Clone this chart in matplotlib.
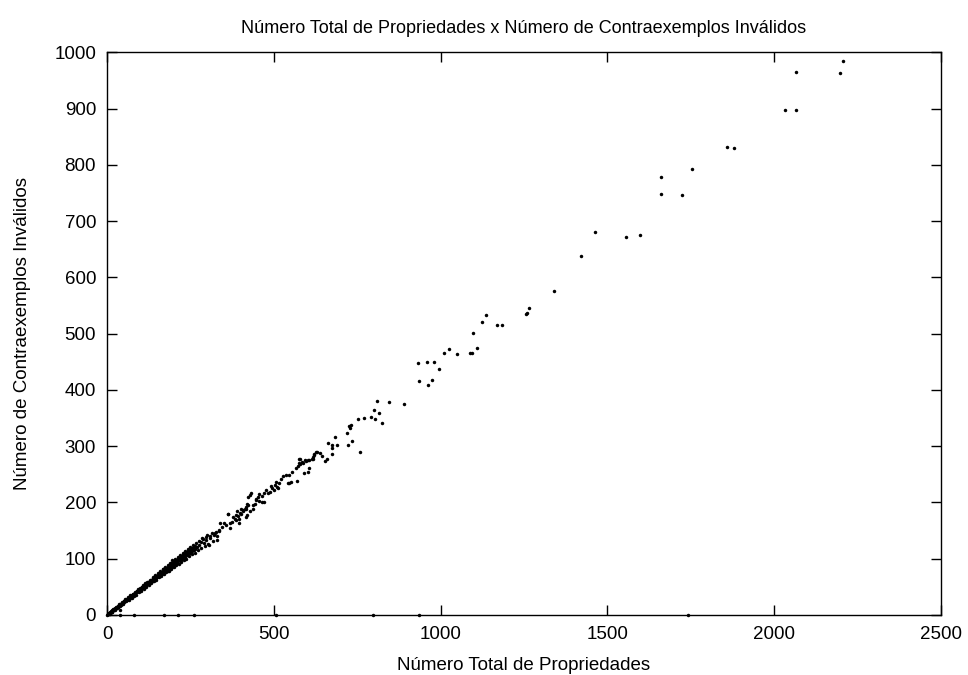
import matplotlib
matplotlib.use("Agg")
import matplotlib.pyplot as plt

plt.rcParams['font.family'] = ['Liberation Sans', 'DejaVu Sans']

# pontos densos perto da origem (propriedades, contraexemplos invalidos)
denso_x = [1, 2, 3, 4, 5, 5, 6, 7, 8, 9, 10, 11, 12, 13, 14, 15, 16, 17, 18, 19,
           20, 21, 22, 23, 24, 25, 26, 27, 28, 29, 30, 31, 32, 33, 34, 35, 36, 37, 38, 40,
           41, 42, 43, 45, 46, 47, 48, 50, 51, 52, 54, 55, 56, 58, 59, 60, 62, 63, 64, 66,
           67, 68, 70, 71, 72, 74, 75, 77, 78, 79, 81, 82, 84, 85, 86, 88, 89, 90, 92, 93,
           95, 96, 98, 99, 100, 102, 104, 105, 107, 108, 110, 111, 113, 115, 116, 118, 120, 121, 123, 125,
           126, 128, 130, 131, 133, 135, 136, 138, 140, 141, 143, 145, 146, 148, 150, 151, 153, 155, 156, 158,
           160, 161, 163, 165, 166, 168, 170, 171, 173, 175, 176, 178, 180, 181, 183, 185, 186, 188, 190, 191,
           193, 195, 196, 198, 200, 201, 203, 205, 206, 208, 210, 211, 213, 215, 216, 218, 220, 221, 223, 225,
           226, 228, 230, 232, 233, 235, 237, 238, 240, 242, 243, 245, 247, 248, 250, 252, 254, 255, 257, 259,
           261, 262, 264]
denso_y = [0, 1, 1, 2, 2, 3, 3, 3, 4, 4, 5, 5, 6, 6, 6, 7, 8, 8, 8, 9,
           10, 9, 10, 11, 11, 12, 12, 13, 13, 14, 14, 15, 15, 15, 16, 17, 16, 17, 18, 19,
           18, 20, 20, 21, 22, 21, 23, 23, 24, 25, 25, 26, 27, 27, 28, 29, 29, 30, 28, 31,
           32, 31, 33, 34, 32, 35, 35, 36, 37, 35, 38, 39, 39, 40, 41, 41, 42, 43, 42, 44,
           45, 44, 46, 47, 45, 48, 49, 50, 49, 51, 52, 50, 53, 54, 52, 56, 55, 57, 58, 56,
           59, 60, 58, 62, 61, 63, 60, 65, 64, 66, 67, 65, 68, 70, 67, 71, 69, 72, 70, 74,
           73, 75, 72, 77, 76, 74, 79, 78, 80, 78, 82, 80, 84, 79, 83, 86, 84, 82, 88, 87,
           85, 90, 89, 87, 92, 94, 90, 95, 93, 97, 96, 92, 99, 98, 100, 101, 97, 103, 102, 104,
           100, 106, 105, 108, 103, 110, 109, 112, 107, 113, 111, 115, 110, 116, 114, 118, 113, 119, 117, 121,
           116, 122, 120]

# segunda camada da nuvem densa, com mais dispersao
disperso_x = [8, 12, 15, 19, 24, 27, 31, 35, 39, 44, 49, 53, 57, 61, 65, 69, 73, 76, 80, 83,
              87, 91, 94, 97, 101, 106, 109, 112, 117, 119, 124, 127, 132, 137, 139, 144, 147, 152, 154, 159,
              162, 167, 169, 174, 177, 182, 184, 189, 192, 197, 199, 204, 207, 212, 214, 219, 222, 227, 229, 234,
              236, 241, 244, 249, 253, 258, 263, 267, 272, 276, 281, 286, 292, 296, 302, 309, 316, 322, 328, 334]
disperso_y = [2, 7, 5, 11, 8, 15, 12, 19, 16, 23, 20, 28, 24, 32, 27, 35, 31, 38, 33, 41,
              36, 46, 40, 48, 43, 53, 46, 56, 50, 59, 53, 63, 56, 67, 60, 71, 63, 74, 67, 78,
              70, 81, 73, 85, 76, 89, 79, 93, 82, 96, 85, 99, 88, 103, 91, 106, 94, 110, 97, 113,
              100, 117, 104, 121, 108, 124, 111, 128, 115, 131, 119, 135, 123, 138, 127, 141, 132, 146, 140, 150]

# faixa intermediaria
meio_x = [166, 174, 181, 186, 191, 194, 201, 205, 213, 220, 225, 230, 235, 240, 245, 250, 255, 263, 270, 275,
          280, 285, 290, 297, 300, 305, 307, 313, 320, 325, 330, 335, 337, 343, 350, 357, 361, 368, 368, 375,
          385, 393, 395, 400, 408, 415, 415, 421,
          363, 378, 383, 385, 390, 395, 398, 401, 407, 412, 415, 418, 420, 423, 427, 428, 432, 436, 437, 442,
          445, 447, 452, 455, 455, 463, 465, 470, 470, 475, 483, 488, 491, 495, 500, 503, 505, 509, 513, 515,
          522, 527, 537, 543, 545, 545, 550, 553, 565, 569, 573, 575, 579, 585, 591, 595, 603, 605, 615, 621,
          627,
          576, 577, 587, 594, 603, 606, 616, 617, 621, 628, 639, 645, 652, 659, 661, 674, 675, 675, 683, 690,
          719, 721, 725, 728, 730, 735, 752, 757, 770, 792, 800, 802, 810, 816, 823, 844, 890]
meio_y = [81, 83, 86, 89, 92, 98, 95, 96, 99, 101, 104, 107, 111, 110, 112, 114, 117, 118, 121, 124,
          130, 136, 128, 133, 142, 124, 136, 145, 142, 148, 133, 151, 164, 157, 163, 160, 179, 164, 154, 166,
          169, 176, 163, 179, 186, 189, 175, 195,
          180, 175, 171, 178, 184, 171, 181, 189, 184, 188, 192, 178, 198, 209, 185, 213, 217, 196, 188, 198,
          204, 207, 210, 215, 203, 201, 211, 216, 200, 222, 216, 219, 229, 225, 222, 231, 237, 228, 225, 235,
          241, 247, 249, 234, 249, 235, 236, 254, 261, 239, 265, 278, 268, 272, 253, 274, 254, 275, 278, 284,
          289,
          270, 277, 271, 275, 275, 262, 277, 280, 286, 290, 288, 283, 273, 278, 306, 287, 302, 297, 317, 303,
          323, 303, 336, 332, 337, 310, 349, 290, 350, 351, 364, 348, 380, 359, 342, 378, 375]

# pontos esparsos acima de 900 propriedades
alto_x = [932, 934, 958, 962, 974, 981, 996, 1010, 1025, 1050, 1089, 1095, 1098, 1110, 1123, 1137, 1169, 1184,
          1256, 1260, 1265, 1339, 1422, 1464, 1557, 1599, 1662, 1662, 1725, 1754, 1859, 1880, 2033, 2067,
          2067, 2198, 2205]
alto_y = [448, 416, 449, 408, 417, 449, 437, 465, 472, 464, 466, 465, 502, 475, 520, 533, 516, 516,
          535, 536, 545, 575, 638, 680, 671, 675, 778, 748, 747, 793, 831, 830, 897, 897,
          965, 963, 984]

# propriedades sem contraexemplos invalidos
zero_x = [38, 38, 81, 171, 213, 260, 507, 796, 934, 1743]
zero_y = [9, 0, 0, 0, 0, 0, 0, 0, 0, 0]

fig = plt.figure(figsize=(9.68, 6.75), dpi=100)
ax = fig.add_axes([0.1107, 0.0889, 0.972 - 0.1107, 0.9225 - 0.0889])

series = [(denso_x, denso_y), (disperso_x, disperso_y), (meio_x, meio_y),
          (alto_x, alto_y), (zero_x, zero_y)]
for xs, ys in series:
    ax.plot(xs, ys, linestyle='none', marker='o', markersize=2.5,
            markeredgewidth=0, color='black', clip_on=False)

ax.set_xlim(0, 2500)
ax.set_ylim(0, 1000)
ax.set_xticks([0, 500, 1000, 1500, 2000, 2500])
ax.set_yticks(range(0, 1001, 100))
ax.tick_params(direction='in', length=7, width=1, top=True, right=True,
               labelsize=13.5, colors='black', pad=8)
for s in ax.spines.values():
    s.set_linewidth(1)

ax.set_title('Número Total de Propriedades x Número de Contraexemplos Inválidos',
             fontsize=13, pad=14)
ax.set_xlabel('Número Total de Propriedades', fontsize=13.5, labelpad=10)
ax.set_ylabel('Número de Contraexemplos Inválidos', fontsize=13.5, labelpad=17)

fig.savefig('out.png', dpi=100)
